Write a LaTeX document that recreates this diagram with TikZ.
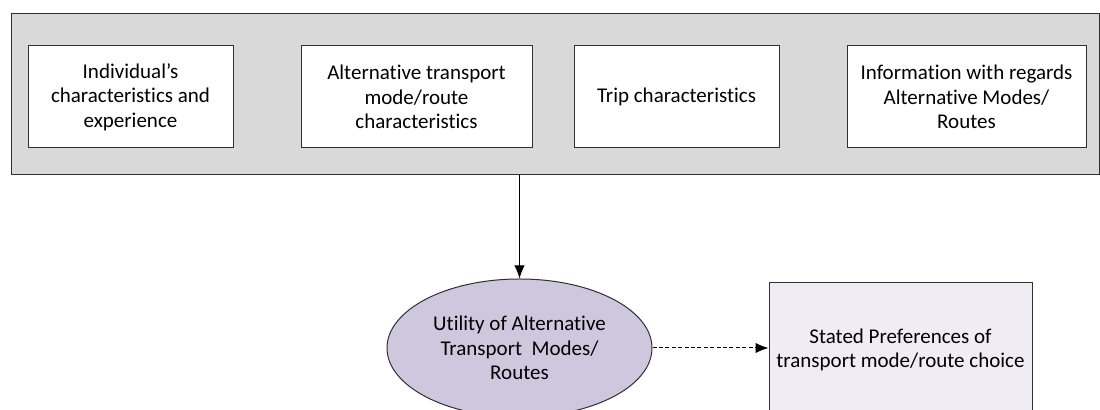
\documentclass[tikz,border=0pt]{standalone}
\usepackage{fontspec}
\setmainfont[Ligatures=NoCommon]{Carlito}
\usepackage{xcolor}
\usetikzlibrary{shapes,arrows,arrows.meta,positioning,fit,backgrounds,calc}
\usetikzlibrary{shapes.geometric}

\definecolor{panelgray}{HTML}{D9D9D9}
\definecolor{utilfill}{HTML}{CFC7DD}
\definecolor{prefill}{HTML}{EFEDF3}
\definecolor{edgegray}{HTML}{303030}

\begin{document}
\begin{tikzpicture}[x=0.5pt, y=-0.5pt,
  panel/.style={rectangle, draw=edgegray, fill=panelgray, line width=0.5pt, inner sep=0pt},
  factor/.style={rectangle, draw=edgegray, fill=white, line width=0.5pt, minimum height=51pt, align=center, inner sep=2pt},
  utility/.style={ellipse, draw=edgegray, fill=utilfill, line width=0.5pt, minimum width=132.5pt, minimum height=69pt, align=center, inner sep=0pt},
  outcome/.style={rectangle, draw=edgegray, fill=prefill, line width=0.5pt, minimum width=131.5pt, minimum height=67pt, align=center},
  link/.style={-{Latex[length=6.5pt, width=5.2pt]}, line width=0.5pt},
  font=\fontsize{10.5pt}{12.2pt}\selectfont
]
\useasboundingbox (0,0) rectangle (1100,410);

% Panel of factors
\node[panel, minimum width=544pt, minimum height=80.5pt] (panel) at (555,94.5) {};

% Factors
\node[factor, minimum width=102.5pt] (indiv) at (130.5,97) {Individual’s\\characteristics and\\experience};
\node[factor, minimum width=115.5pt] (mode) at (416.5,97) {Alternative transport\\mode/route\\characteristics};
\node[factor, minimum width=102.5pt] (trip) at (676.5,97) {Trip characteristics};
\node[factor, minimum width=119.5pt] (info) at (966.5,97) {Information with regards\\Alternative Modes/\\Routes};

% Utility and stated preferences
\node[utility] (util) at (519.5,348) {Utility of Alternative\\Transport~~Modes/\\Routes};
\node[outcome] (pref) at (900.5,350) {Stated Preferences of\\transport mode/route choice};

% Links
\draw[link] (panel.south -| util.north) -- (util.north);
\draw[link, dash pattern=on 2pt off 1.2pt] (util.east) -- (pref.west |- util.east);

\end{tikzpicture}
\end{document}
